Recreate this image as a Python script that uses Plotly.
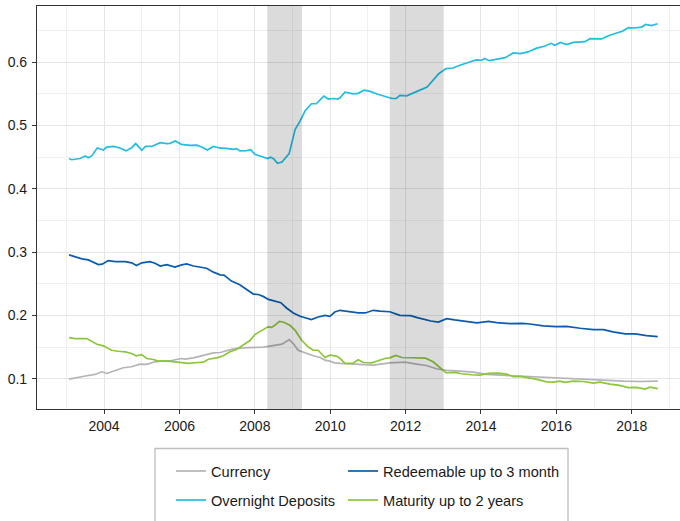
import plotly.graph_objects as go

# ---------------- data (decimal years, shares) ----------------
currency_x = [2003.07, 2003.27, 2003.54, 2003.76, 2003.94, 2004.07, 2004.30, 2004.51, 2004.73, 2004.95,
              2005.13, 2005.35, 2005.57, 2005.79, 2006.05, 2006.14, 2006.37, 2006.63, 2006.90, 2007.08,
              2007.26, 2007.43, 2007.69, 2007.96, 2008.22, 2008.40, 2008.58, 2008.72, 2008.91, 2009.02,
              2009.15, 2009.38, 2009.55, 2009.73, 2009.86, 2009.99, 2010.12, 2010.26, 2010.70, 2011.14,
              2011.58, 2011.98, 2012.29, 2012.55, 2012.82, 2013.09, 2013.44, 2013.79, 2014.15, 2014.51,
              2014.86, 2015.21, 2015.56, 2016.00, 2016.45, 2016.89, 2017.33, 2017.77, 2018.22, 2018.69]
currency_y = [0.0992, 0.1019, 0.1046, 0.1066, 0.1108, 0.1082, 0.1124, 0.1172, 0.1188, 0.1230,
              0.1225, 0.1266, 0.1282, 0.1287, 0.1318, 0.1308, 0.1329, 0.1370, 0.1408, 0.1413,
              0.1444, 0.1471, 0.1487, 0.1487, 0.1497, 0.1513, 0.1528, 0.1545, 0.1617, 0.1555,
              0.1449, 0.1397, 0.1361, 0.1334, 0.1292, 0.1276, 0.1250, 0.1240, 0.1224, 0.1213,
              0.1250, 0.1260, 0.1230, 0.1208, 0.1156, 0.1130, 0.1119, 0.1103, 0.1066, 0.1056,
              0.1045, 0.1035, 0.1019, 0.1003, 0.0992, 0.0987, 0.0976, 0.0960, 0.0955, 0.0960]

overnight_x = [2003.07, 2003.14, 2003.36, 2003.50, 2003.58, 2003.67, 2003.82, 2003.98, 2004.07, 2004.25,
               2004.42, 2004.58, 2004.73, 2004.84, 2005.00, 2005.10, 2005.26, 2005.49, 2005.66, 2005.75,
               2005.89, 2006.05, 2006.28, 2006.46, 2006.59, 2006.74, 2006.90, 2007.06, 2007.24, 2007.43,
               2007.52, 2007.60, 2007.78, 2007.89, 2008.00, 2008.22, 2008.34, 2008.42, 2008.51, 2008.60,
               2008.72, 2008.91, 2009.07, 2009.20, 2009.33, 2009.50, 2009.63, 2009.83, 2009.95, 2010.08,
               2010.20, 2010.26, 2010.39, 2010.61, 2010.74, 2010.90, 2011.06, 2011.24, 2011.41, 2011.64,
               2011.75, 2011.85, 2012.03, 2012.20, 2012.38, 2012.57, 2012.73, 2012.88, 2013.07, 2013.26,
               2013.44, 2013.66, 2013.87, 2014.00, 2014.10, 2014.22, 2014.41, 2014.64, 2014.86, 2015.04,
               2015.25, 2015.46, 2015.70, 2015.86, 2015.96, 2016.11, 2016.27, 2016.45, 2016.76, 2016.89,
               2017.20, 2017.38, 2017.60, 2017.75, 2017.91, 2018.07, 2018.26, 2018.37, 2018.52, 2018.69]
overnight_y = [0.448, 0.446, 0.448, 0.452, 0.449, 0.452, 0.4646, 0.4614, 0.466, 0.467,
               0.4646, 0.460, 0.465, 0.4715, 0.461, 0.467, 0.467, 0.473, 0.4716, 0.472,
               0.4756, 0.4704, 0.4688, 0.469, 0.4662, 0.4614, 0.467, 0.4646, 0.464, 0.4624,
               0.4635, 0.460, 0.4603, 0.462, 0.4547, 0.4504, 0.448, 0.450, 0.447, 0.4405,
               0.4425, 0.4557, 0.494, 0.507, 0.523, 0.5345, 0.5345, 0.5465, 0.542, 0.5428,
               0.542, 0.544, 0.5528, 0.550, 0.551, 0.556, 0.554, 0.550, 0.547, 0.5428,
               0.5428, 0.5476, 0.547, 0.551, 0.556, 0.561, 0.571, 0.582, 0.590, 0.591,
               0.5953, 0.599, 0.6037, 0.603, 0.606, 0.6026, 0.605, 0.6074, 0.6148, 0.6137,
               0.6164, 0.622, 0.6258, 0.630, 0.627, 0.6315, 0.628, 0.6315, 0.6326, 0.6373,
               0.637, 0.642, 0.6463, 0.649, 0.6547, 0.6542, 0.6557, 0.6599, 0.658, 0.661]

redeem_x = [2003.07, 2003.41, 2003.58, 2003.85, 2003.95, 2004.11, 2004.30, 2004.56, 2004.73, 2004.86,
            2005.00, 2005.22, 2005.35, 2005.49, 2005.66, 2005.88, 2006.06, 2006.19, 2006.37, 2006.55,
            2006.72, 2006.90, 2007.08, 2007.18, 2007.38, 2007.60, 2007.78, 2007.96, 2008.09, 2008.22,
            2008.36, 2008.54, 2008.69, 2008.84, 2009.02, 2009.20, 2009.33, 2009.50, 2009.68, 2009.86,
            2009.99, 2010.12, 2010.26, 2010.44, 2010.75, 2010.93, 2011.14, 2011.32, 2011.58, 2011.85,
            2012.13, 2012.31, 2012.49, 2012.67, 2012.87, 2013.09, 2013.30, 2013.58, 2013.89, 2014.20,
            2014.42, 2014.77, 2015.08, 2015.30, 2015.65, 2016.00, 2016.27, 2016.63, 2016.98, 2017.25,
            2017.50, 2017.83, 2018.10, 2018.39, 2018.69]
redeem_y = [0.2956, 0.2893, 0.2877, 0.2803, 0.281, 0.2866, 0.285, 0.285, 0.283, 0.2787,
            0.283, 0.285, 0.2825, 0.278, 0.2803, 0.2762, 0.2798, 0.2814, 0.278, 0.2762,
            0.2745, 0.2683, 0.264, 0.2635, 0.2542, 0.2484, 0.241, 0.2337, 0.233, 0.230,
            0.2252, 0.2226, 0.220, 0.2117, 0.2038, 0.1985, 0.196, 0.1933, 0.1975, 0.200,
            0.1985, 0.2053, 0.208, 0.2067, 0.2038, 0.2038, 0.208, 0.2067, 0.2057, 0.200,
            0.1995, 0.1964, 0.1933, 0.1911, 0.1895, 0.1948, 0.1928, 0.1906, 0.188, 0.1906,
            0.1885, 0.187, 0.1875, 0.1864, 0.1833, 0.1822, 0.1827, 0.1796, 0.1775, 0.1775,
            0.1738, 0.1707, 0.1707, 0.168, 0.1665]

maturity_x = [2003.07, 2003.23, 2003.54, 2003.63, 2003.81, 2003.98, 2004.20, 2004.38, 2004.56, 2004.73,
              2004.85, 2005.00, 2005.13, 2005.31, 2005.44, 2005.66, 2006.05, 2006.23, 2006.49, 2006.63,
              2006.77, 2006.99, 2007.16, 2007.34, 2007.51, 2007.74, 2007.87, 2008.00, 2008.18, 2008.35,
              2008.44, 2008.53, 2008.65, 2008.75, 2008.93, 2009.07, 2009.24, 2009.42, 2009.55, 2009.68,
              2009.86, 2009.99, 2010.17, 2010.26, 2010.39, 2010.61, 2010.74, 2010.88, 2011.10, 2011.27,
              2011.45, 2011.58, 2011.74, 2011.90, 2012.12, 2012.34, 2012.53, 2012.73, 2012.91, 2013.07,
              2013.30, 2013.48, 2013.75, 2013.97, 2014.20, 2014.47, 2014.68, 2014.86, 2015.04, 2015.25,
              2015.46, 2015.74, 2015.92, 2016.09, 2016.22, 2016.45, 2016.72, 2016.98, 2017.16, 2017.42,
              2017.68, 2017.91, 2018.13, 2018.35, 2018.48, 2018.69]
maturity_y = [0.1649, 0.1633, 0.1633, 0.1606, 0.1543, 0.1518, 0.1449, 0.1433, 0.1423, 0.1397,
              0.1361, 0.138, 0.1318, 0.1302, 0.1276, 0.128, 0.1255, 0.124, 0.1255, 0.126,
              0.1307, 0.1329, 0.1361, 0.1424, 0.146, 0.155, 0.1602, 0.1696, 0.1764, 0.1818,
              0.181, 0.1843, 0.1906, 0.1895, 0.1843, 0.1764, 0.1606, 0.150, 0.1449, 0.1449,
              0.1334, 0.137, 0.1355, 0.1318, 0.124, 0.1245, 0.1297, 0.1255, 0.125, 0.1287,
              0.1318, 0.1329, 0.1366, 0.1334, 0.1329, 0.1318, 0.1324, 0.1266, 0.1172, 0.1093,
              0.1098, 0.1077, 0.1061, 0.1056, 0.1082, 0.1087, 0.107, 0.103, 0.1035, 0.1014,
              0.0992, 0.095, 0.0945, 0.096, 0.094, 0.096, 0.0955, 0.0929, 0.0945, 0.0914,
              0.0893, 0.0857, 0.0862, 0.0834, 0.0866, 0.0841]

recession_start = [2008.33, 2011.58]
recession_end = [2009.25, 2013.00]

y_ticks = [0.1, 0.2, 0.3, 0.4, 0.5, 0.6]
y_labels = ["0.1", "0.2", "0.3", "0.4", "0.5", "0.6"]

# ---------------- figure ----------------
W, H = 680, 521
ML, MR, MT, MB = 37, 0, 6, 112
PW, PH = W - ML - MR, H - MT - MB


def px_x(p):
    return (p - ML) / PW


def px_y(p):
    return (H - MB - p) / PH


FONT = "Liberation Sans, Arial, sans-serif"
fig = go.Figure()

series = [
    ("Currency", currency_x, currency_y, "#B4B4B8", "legend", 127),
    ("Overnight Deposits", overnight_x, overnight_y, "#22BEE0", "legend2", 127),
    ("Redeemable up to 3 month", redeem_x, redeem_y, "#0B5CAF", "legend", 200),
    ("Maturity up to 2 years", maturity_x, maturity_y, "#8CC63C", "legend2", 200),
]
for name, xs, ys, col, lg, lw in series:
    fig.add_trace(go.Scatter(x=xs, y=ys, name=name, mode="lines",
                             line=dict(color=col, width=1.7), legend=lg, legendwidth=lw))

for s, e in zip(recession_start, recession_end):
    fig.add_shape(type="rect", xref="x", yref="paper", x0=s, x1=e, y0=0, y1=1,
                  fillcolor="rgba(0,0,0,0.14)", line=dict(width=0), layer="above")

# legend box
fig.add_shape(type="rect", xref="paper", yref="paper",
              x0=px_x(155), x1=px_x(568), y0=px_y(448.5), y1=px_y(530),
              line=dict(color="#BEBEBE", width=1.3), fillcolor="rgba(0,0,0,0)")

grid_major = "#E6E6E6"
grid_minor = "#F0F0F0"
axis_col = "#333333"

fig.update_xaxes(range=[2002.22, 2019.28], tick0=2004, dtick=2, showgrid=True,
                 gridcolor=grid_major, gridwidth=1.2,
                 minor=dict(dtick=1, tick0=2003, showgrid=True, gridcolor=grid_minor, gridwidth=0.8),
                 showline=True, linecolor=axis_col, linewidth=1.1, mirror=True,
                 ticks="outside", ticklen=4, tickcolor=axis_col, zeroline=False,
                 tickfont=dict(family=FONT, size=14, color="#1a1a1a"))
fig.update_yaxes(range=[0.052, 0.689], tickvals=y_ticks, ticktext=y_labels, showgrid=True,
                 gridcolor=grid_major, gridwidth=1.2,
                 minor=dict(tickvals=[0.05, 0.15, 0.25, 0.35, 0.45, 0.55, 0.65], showgrid=True,
                            gridcolor=grid_minor, gridwidth=0.8),
                 showline=True, linecolor=axis_col, linewidth=1.1, mirror=False,
                 ticks="outside", ticklen=4, tickcolor=axis_col, zeroline=False,
                 ticklabelstandoff=2,
                 tickfont=dict(family=FONT, size=14, color="#1a1a1a"))

leg_common = dict(orientation="h", xref="paper", yref="paper", xanchor="left", yanchor="middle",
                  bgcolor="rgba(0,0,0,0)", borderwidth=0, entrywidthmode="pixels",
                  font=dict(family=FONT, size=14.6, color="#1a1a1a"))

fig.update_layout(
    width=W, height=H,
    margin=dict(l=ML, r=MR, t=MT, b=MB, autoexpand=False),
    paper_bgcolor="white", plot_bgcolor="white",
    showlegend=True,
    legend=dict(x=px_x(171), y=px_y(471), **leg_common),
    legend2=dict(x=px_x(171), y=px_y(500), **leg_common),
)

fig.write_html("out.html", config={"displayModeBar": False},
               post_script="document.body.style.margin='0';")
